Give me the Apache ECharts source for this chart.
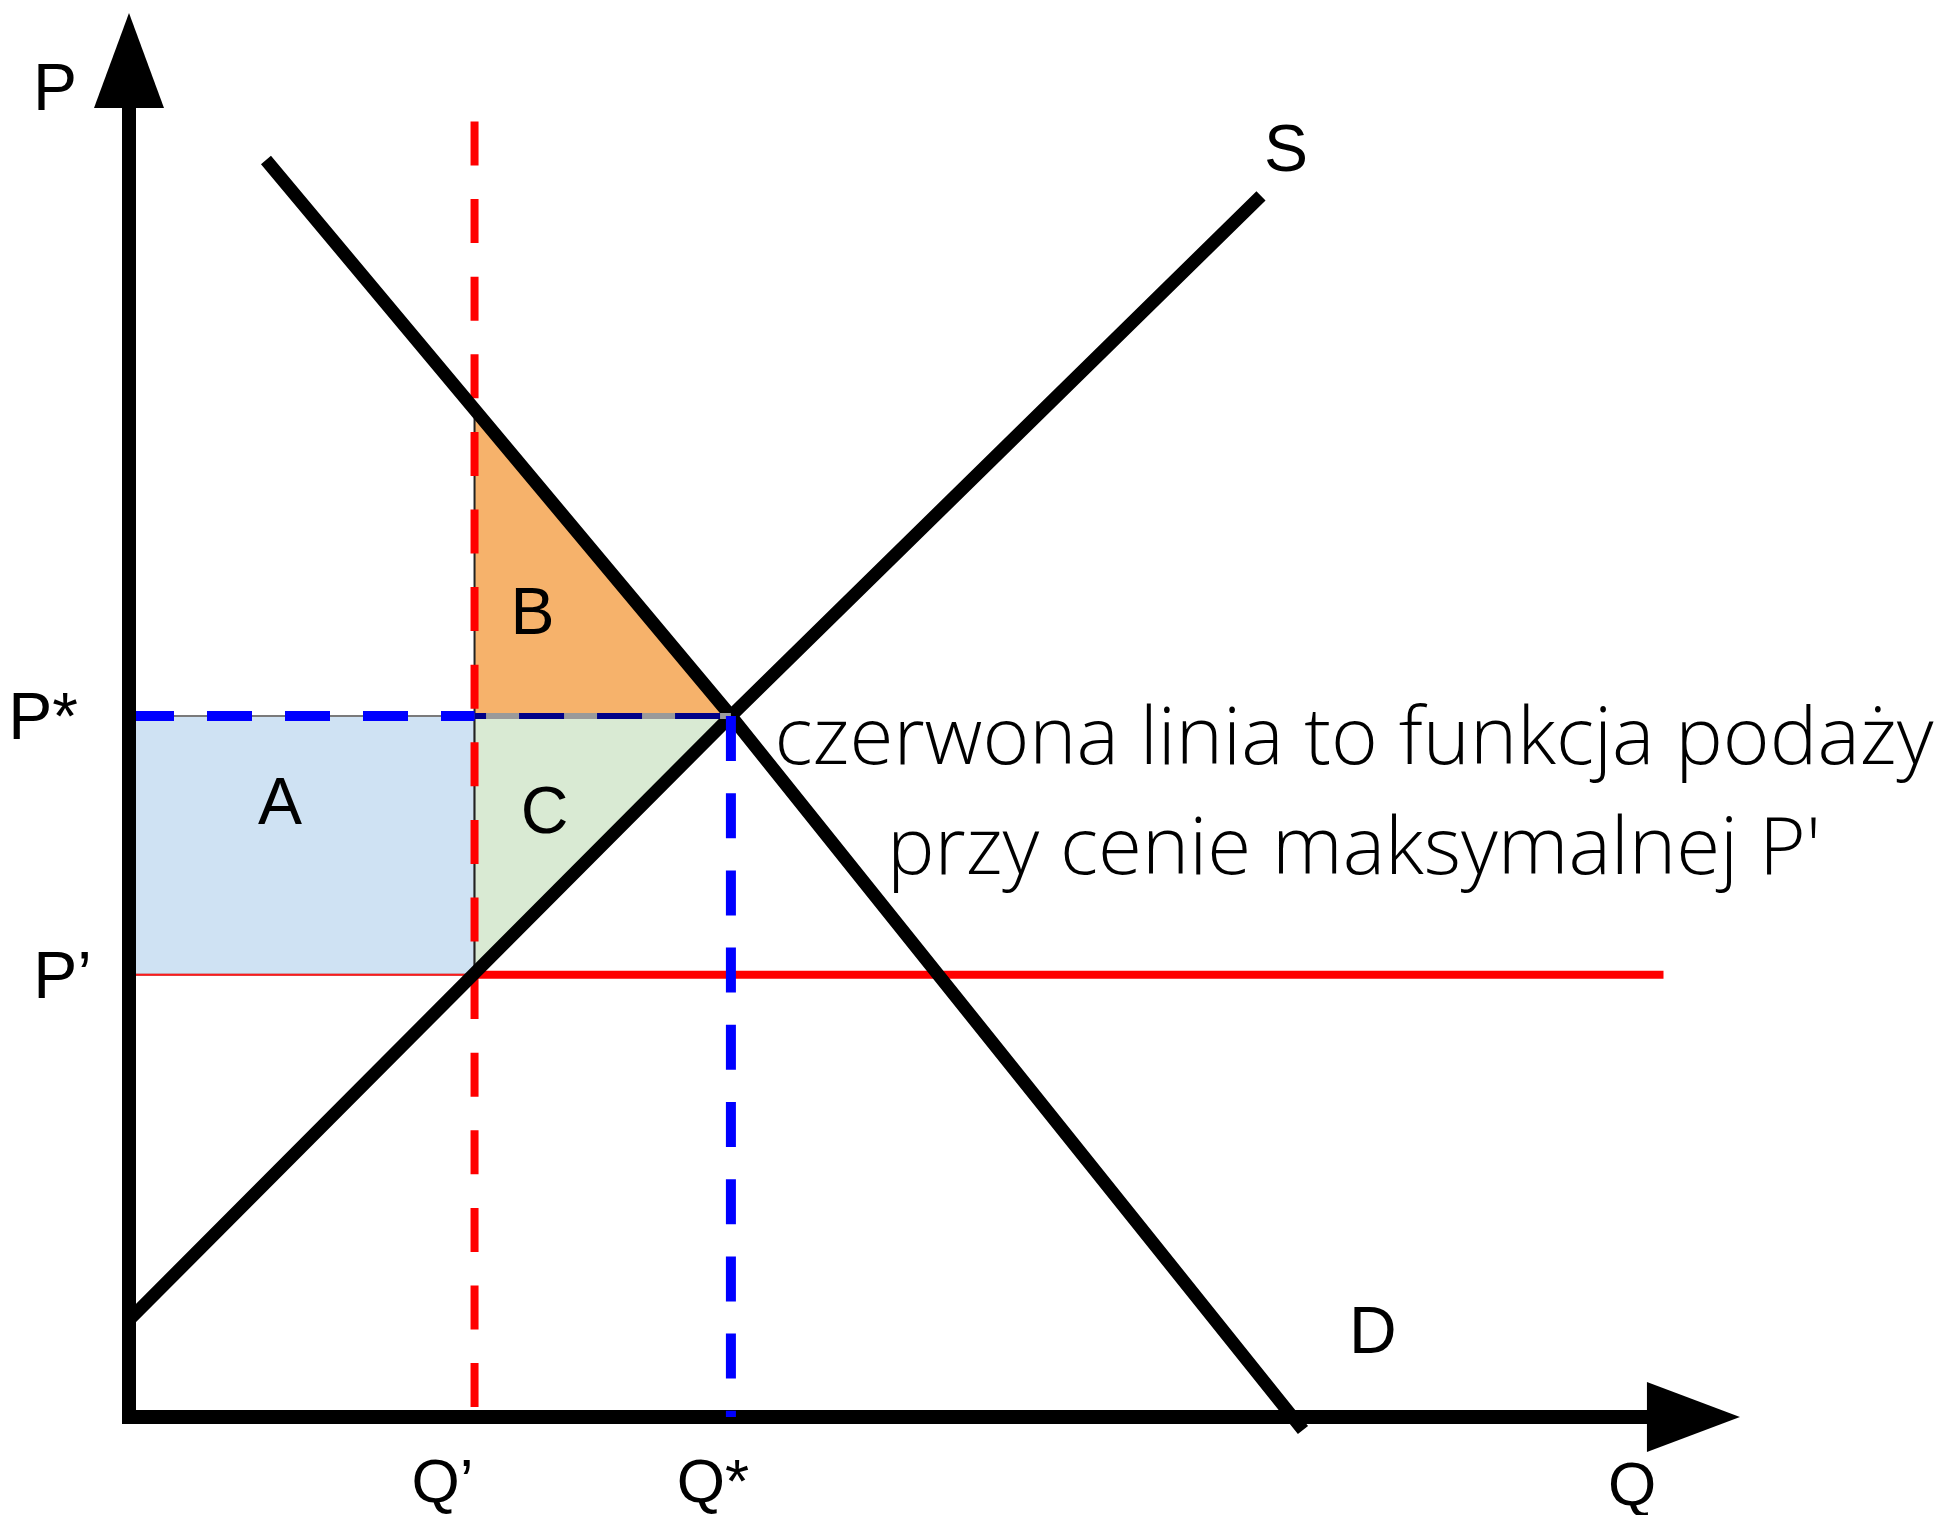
<!DOCTYPE html>
<html>
<head>
<meta charset="utf-8">
<script src="https://cdn.jsdelivr.net/npm/echarts@6/dist/echarts.min.js"></script>
<style>
html,body{margin:0;padding:0;background:#ffffff;overflow:hidden;}
#c{width:1942px;height:1515px;}
</style>
</head>
<body>
<div id="c"></div>
<script>
// ---- key market values (abstract units) ----
const Qprime = 27.9;      // quantity under the price ceiling
const Qstar  = 48.6;      // equilibrium quantity
const Pstar  = 56.6;      // equilibrium price
const Pprime = 35.7;      // maximum (ceiling) price
const demandAtQprime = 81.35;

// curves
const demandQ = [11.06, Qstar, 94.79];
const demandP = [101.49, Pstar, -1.05];
const supplyQ = [0.08, Qstar, 91.40];
const supplyP = [7.91, Pstar, 98.59];

// red vertical dashed line extent, red ceiling line end
const redTopP = 104.6;
const redEndQ = 123.9;

// tick labels
const priceTickValues = [Pprime, Pstar];
const priceTickLabels = ['P\u2019', 'P*'];
const qtyTickValues = [Qprime, Qstar];
const qtyTickLabels = ['Q\u2019', 'Q*'];

// area labels and curve labels [q, p, text, fontSize]
const letterLabels = [
  [-5.97, 107.4, 'P', 66],
  [121.36, -5.3, 'Q', 62],
  [93.42, 102.46, 'S', 66],
  [100.44, 7.02, 'D', 66],
  [12.19, 49.78, 'A', 66],
  [32.58, 65.11, 'B', 66],
  [33.55, 49.01, 'C', 66]
];
const noteText = ['czerwona linia to funkcja poda\u017cy', "przy cenie maksymalnej P'"];
const notePos = [98.91, 50.87];

// axis ranges
const xMin = -0.5652, xMax = 124.5;
const yMin = -0.5652, yMax = 105.69;

// polygons A, B, C
const polys = [
  {pts: [[0, Pprime], [Qprime, Pprime], [Qprime, Pstar], [0, Pstar]], fill: '#cfe2f3', stroke: '#7a7a7a'},
  {pts: [[Qprime, Pstar], [Qprime, demandAtQprime], [Qstar, Pstar]], fill: '#f6b26b', stroke: '#222222'},
  {pts: [[Qprime, Pstar], [Qstar, Pstar], [Qprime, Pprime]], fill: '#d9ead3', stroke: '#222222'}
];

function pairs(qs, ps) { return qs.map((q, i) => [q, ps[i]]); }
function lineSeries(data, style, z) {
  return {
    type: 'line', data: data, symbol: 'none', showSymbol: false, clip: false, z: z,
    silent: true, animation: false,
    lineStyle: Object.assign({cap: 'butt', join: 'miter'}, style)
  };
}
function tickFormatter(values, labels) {
  return function (v) {
    for (let i = 0; i < values.length; i++) {
      if (Math.abs(v - values[i]) < 1e-6) return '{s' + i + '|' + labels[i] + '}';
    }
    return '';
  };
}
const labelFont = {fontFamily: 'Liberation Sans', fontSize: 66, color: '#000000', lineHeight: 66};
const qFont = {fontFamily: 'Liberation Sans', fontSize: 62, color: '#000000', lineHeight: 62};

const chart = echarts.init(document.getElementById('c'), null, {renderer: 'canvas'});
chart.setOption({
  backgroundColor: '#ffffff',
  animation: false,
  grid: {left: 122, top: 108, width: 1548.93, height: 1315.97, containLabel: false, outerBoundsMode: 'none'},
  xAxis: {
    type: 'value', min: xMin, max: xMax,
    splitLine: {show: false}, axisTick: {show: false},
    axisLine: {show: true, onZero: true, symbol: ['none', 'triangle'], symbolSize: [70, 93],
      symbolOffset: [0, 22.5], lineStyle: {color: '#000000', width: 14, cap: 'butt'}},
    axisLabel: {
      customValues: qtyTickValues, formatter: tickFormatter(qtyTickValues, qtyTickLabels),
      margin: 61, verticalAlign: 'middle', fontFamily: 'Liberation Sans', fontSize: 62, color: '#000',
      rich: {
        s0: Object.assign({padding: [0, 64, 0, 0]}, qFont),
        s1: Object.assign({padding: [0, 36, 0, 0]}, qFont)
      }
    }
  },
  yAxis: {
    type: 'value', min: yMin, max: yMax, z: 10,
    splitLine: {show: false}, axisTick: {show: false},
    axisLine: {show: true, onZero: true, symbol: ['none', 'triangle'], symbolSize: [70, 95],
      symbolOffset: [0, 47.5], lineStyle: {color: '#000000', width: 14, cap: 'butt'}},
    axisLabel: {
      customValues: priceTickValues, formatter: tickFormatter(priceTickValues, priceTickLabels),
      margin: 30, fontFamily: 'Liberation Sans', fontSize: 66, color: '#000',
      rich: {
        s0: Object.assign({padding: [10, 0, 0, 0]}, labelFont),
        s1: Object.assign({padding: [10, 14, 0, 0]}, labelFont)
      }
    }
  },
  series: [
    {
      type: 'custom', z: 1, silent: true, animation: false,
      data: polys.map(p => p.pts[0]),
      renderItem: function (params, api) {
        const p = polys[params.dataIndex];
        return {
          type: 'polygon',
          shape: {points: p.pts.map(v => api.coord(v))},
          style: {fill: p.fill, stroke: p.stroke, lineWidth: 2}
        };
      }
    },
    // ceiling line P'
    lineSeries([[Qprime, Pprime], [redEndQ, Pprime]], {color: '#ff0000', width: 8}, 3),
    lineSeries([[0, Pprime], [Qprime, Pprime]], {color: '#ff1a1a', width: 2}, 3),
    // red dashed vertical at Q'
    lineSeries([[Qprime, redTopP], [Qprime, 0]], {color: '#ff0000', width: 8, type: [44, 33.6]}, 4),
    // supply and demand
    lineSeries(pairs(supplyQ, supplyP), {color: '#000000', width: 13}, 5),
    lineSeries(pairs(demandQ, demandP), {color: '#000000', width: 13}, 5),
    // P* dashed segment across B/C
    lineSeries([[Qprime, Pstar], [Qstar, Pstar]], {color: '#9a9a9a', width: 6}, 6),
    lineSeries([[Qprime, Pstar], [Qstar, Pstar]], {color: '#000088', width: 6, type: [45, 33], dashOffset: 33.5}, 7),
    // blue dashed lines
    lineSeries([[0, Pstar], [Qprime, Pstar]], {color: '#0000ff', width: 10, type: [45, 33]}, 8),
    lineSeries([[Qstar, Pstar], [Qstar, 0]], {color: '#0000ff', width: 10, type: [45, 32.2]}, 8),
    // letters
    {
      type: 'scatter', z: 20, silent: true, animation: false, clip: false, symbolSize: 0,
      itemStyle: {opacity: 1},
      data: letterLabels.map(l => ({value: [l[0], l[1]], name: l[2], label: {fontSize: l[3]}})),
      label: {show: true, position: [0, 0], offset: [0, 5], formatter: '{b}', fontFamily: 'Liberation Sans',
        fontSize: 66, color: '#000000', align: 'center', verticalAlign: 'middle',
        textBorderWidth: 0, opacity: 1}
    },
    // annotation
    {
      type: 'scatter', z: 20, silent: true, animation: false, clip: false, symbolSize: 0,
      itemStyle: {opacity: 1},
      data: [{value: notePos, name: noteText.join('\n')}],
      label: {show: true, position: [0, 0], offset: [0, 9], formatter: '{b}', fontFamily: 'Open Sans',
        fontWeight: 300, fontSize: 80, lineHeight: 110, color: '#000000', align: 'center', verticalAlign: 'middle',
        textBorderWidth: 0, opacity: 1}
    }
  ]
});
</script>
</body>
</html>
